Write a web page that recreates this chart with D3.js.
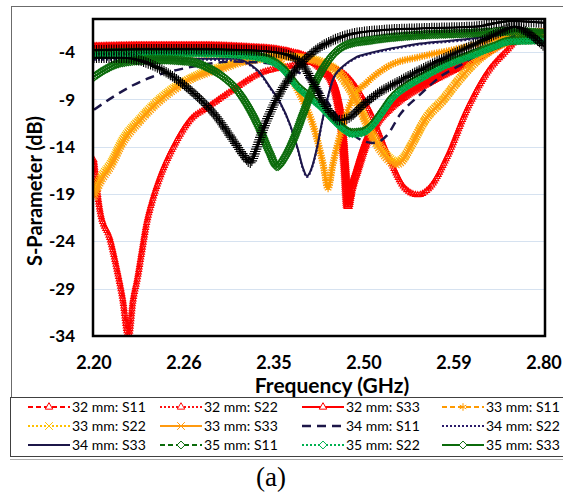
<!DOCTYPE html>
<html>
<head>
<meta charset="utf-8">
<script src="https://cdn.jsdelivr.net/npm/d3@7"></script>
<style>
  html, body { margin: 0; padding: 0; background: #fff; }
  svg { display: block; font-family: Lato, "Open Sans", sans-serif; }
</style>
</head>
<body>
<svg id="chart" width="563" height="494"></svg>
<script>
// axis labels (category axis, evenly spaced labels)
const xTicks = [2.20, 2.26, 2.35, 2.50, 2.59, 2.80];
const yTicks = [-34, -29, -24, -19, -14, -9, -4];

// [frequency GHz, dB]
const s32_11 = [[2.200,-15.4],[2.204,-20.7],[2.211,-23.9],[2.215,-26.7],[2.219,-29.9],[2.223,-34.0],[2.226,-30.2],[2.229,-27.8],[2.232,-24.9],[2.235,-22.1],[2.239,-19.6],[2.244,-17.2],[2.253,-14.0],[2.266,-11.2],[2.283,-9.9],[2.299,-8.7],[2.316,-7.5],[2.333,-6.4],[2.377,-5.5],[2.410,-5.1],[2.443,-5.5],[2.477,-6.9],[2.506,-10.3],[2.526,-15.4],[2.541,-18.4],[2.554,-19.1],[2.566,-18.3],[2.583,-15.1],[2.620,-10.1],[2.667,-6.2],[2.714,-3.8],[2.756,-2.0],[2.800,-2.3]];
const s32_22 = [[2.200,-3.4],[2.237,-3.3],[2.276,-3.3],[2.326,-3.5],[2.352,-3.7],[2.377,-4.0],[2.410,-4.7],[2.435,-6.0],[2.448,-7.0],[2.457,-9.0],[2.463,-11.3],[2.468,-15.4],[2.474,-19.9],[2.480,-18.4],[2.489,-16.2],[2.503,-13.0],[2.513,-11.2],[2.526,-9.7],[2.543,-8.3],[2.556,-7.5],[2.579,-6.2],[2.644,-4.5],[2.697,-3.1],[2.744,-2.1],[2.800,-1.9]];
const s32_33 = [[2.200,-3.5],[2.237,-3.4],[2.276,-3.4],[2.326,-3.6],[2.352,-3.8],[2.377,-4.1],[2.410,-4.8],[2.435,-6.1],[2.448,-7.2],[2.457,-9.3],[2.463,-11.7],[2.468,-15.9],[2.473,-20.3],[2.478,-18.6],[2.488,-16.5],[2.503,-13.3],[2.513,-11.4],[2.526,-9.9],[2.543,-8.5],[2.556,-7.7],[2.579,-6.4],[2.644,-4.6],[2.697,-3.2],[2.744,-2.2],[2.800,-2.0]];
const s33_11 = [[2.200,-4.0],[2.237,-4.1],[2.276,-4.2],[2.326,-4.3],[2.346,-4.4],[2.360,-5.0],[2.377,-6.6],[2.393,-8.5],[2.415,-11.7],[2.432,-15.9],[2.440,-18.4],[2.448,-15.9],[2.465,-11.7],[2.482,-8.8],[2.503,-7.2],[2.526,-5.4],[2.556,-4.5],[2.604,-3.6],[2.697,-2.5],[2.756,-1.9],[2.800,-2.0]];
const s33_22 = [[2.200,-18.9],[2.204,-17.4],[2.211,-15.8],[2.219,-13.3],[2.231,-11.0],[2.242,-9.2],[2.253,-7.8],[2.266,-6.8],[2.283,-6.0],[2.299,-5.5],[2.316,-5.0],[2.333,-4.7],[2.360,-4.4],[2.402,-4.6],[2.435,-5.2],[2.455,-6.0],[2.472,-7.3],[2.488,-9.1],[2.509,-12.8],[2.521,-14.7],[2.533,-15.6],[2.540,-15.1],[2.547,-13.9],[2.562,-11.0],[2.580,-8.9],[2.600,-7.0],[2.640,-5.0],[2.680,-3.6],[2.721,-2.7],[2.767,-2.0],[2.800,-1.9]];
const s33_33 = [[2.200,-19.3],[2.204,-17.8],[2.211,-16.1],[2.219,-13.6],[2.231,-11.2],[2.242,-9.4],[2.253,-8.0],[2.266,-6.9],[2.283,-6.2],[2.299,-5.7],[2.316,-5.1],[2.333,-4.8],[2.360,-4.5],[2.402,-4.7],[2.435,-5.3],[2.455,-6.1],[2.472,-7.5],[2.488,-9.3],[2.509,-13.1],[2.521,-15.0],[2.532,-15.9],[2.539,-15.4],[2.546,-14.1],[2.561,-11.2],[2.579,-9.1],[2.599,-7.1],[2.639,-5.1],[2.679,-3.7],[2.721,-2.8],[2.767,-2.1],[2.800,-2.0]];
const s34_11 = [[2.200,-10.1],[2.213,-8.7],[2.226,-7.5],[2.239,-6.6],[2.255,-5.9],[2.276,-5.4],[2.309,-5.0],[2.336,-5.1],[2.368,-5.6],[2.398,-6.4],[2.423,-7.8],[2.443,-9.6],[2.465,-11.7],[2.490,-13.1],[2.509,-13.6],[2.523,-12.8],[2.536,-10.6],[2.556,-8.5],[2.579,-6.4],[2.604,-5.4],[2.644,-4.3],[2.697,-3.0],[2.744,-2.1],[2.800,-1.8]];
const s34_22 = [[2.200,-4.8],[2.237,-4.8],[2.276,-4.8],[2.311,-4.9],[2.326,-5.4],[2.336,-6.3],[2.346,-7.8],[2.360,-9.4],[2.377,-11.8],[2.390,-14.4],[2.398,-16.3],[2.405,-17.2],[2.413,-16.3],[2.422,-14.1],[2.430,-11.5],[2.438,-9.3],[2.448,-7.0],[2.465,-5.6],[2.485,-4.7],[2.506,-4.2],[2.533,-3.6],[2.556,-3.2],[2.604,-2.8],[2.697,-2.2],[2.756,-1.8],[2.800,-1.8]];
const s34_33 = [[2.200,-4.6],[2.237,-4.6],[2.276,-4.7],[2.311,-4.7],[2.326,-5.3],[2.336,-6.2],[2.346,-7.7],[2.360,-9.3],[2.377,-11.7],[2.390,-14.3],[2.398,-16.2],[2.405,-17.1],[2.413,-16.2],[2.422,-14.0],[2.430,-11.4],[2.438,-9.2],[2.448,-6.9],[2.465,-5.5],[2.485,-4.6],[2.506,-4.1],[2.533,-3.5],[2.556,-3.1],[2.604,-2.7],[2.697,-2.1],[2.756,-1.7],[2.800,-1.7]];
const s35_11 = [[2.200,-4.1],[2.237,-4.0],[2.276,-4.0],[2.316,-4.2],[2.341,-4.6],[2.365,-5.7],[2.388,-7.5],[2.410,-8.7],[2.430,-9.8],[2.448,-11.0],[2.465,-12.0],[2.480,-12.5],[2.497,-12.4],[2.508,-11.7],[2.518,-10.3],[2.528,-8.8],[2.543,-7.5],[2.556,-6.7],[2.579,-5.4],[2.644,-4.0],[2.681,-3.4],[2.721,-2.8],[2.800,-2.7]];
const s35_22 = [[2.200,-4.3],[2.237,-4.2],[2.276,-4.2],[2.316,-4.4],[2.341,-4.8],[2.365,-5.9],[2.388,-7.7],[2.410,-8.9],[2.430,-10.0],[2.448,-11.2],[2.465,-12.2],[2.480,-12.7],[2.497,-12.6],[2.508,-11.9],[2.518,-10.5],[2.528,-9.0],[2.543,-7.7],[2.556,-6.9],[2.579,-5.6],[2.644,-4.2],[2.681,-3.5],[2.721,-2.9],[2.800,-2.8]];
const s35_33 = [[2.200,-6.6],[2.209,-5.7],[2.219,-5.1],[2.242,-4.8],[2.266,-5.0],[2.283,-5.6],[2.299,-6.6],[2.313,-8.0],[2.326,-10.1],[2.336,-12.2],[2.346,-14.7],[2.355,-16.1],[2.367,-15.2],[2.382,-13.3],[2.398,-10.6],[2.415,-7.8],[2.432,-5.7],[2.448,-4.3],[2.472,-3.2],[2.509,-2.7],[2.556,-2.2],[2.627,-2.0],[2.721,-1.8],[2.800,-2.0]];
// two black "+" traces that have no legend entry in the picture
const extraA = [[2.200,-4.6],[2.219,-4.6],[2.242,-5.6],[2.266,-8.0],[2.293,-10.9],[2.309,-13.3],[2.321,-15.1],[2.326,-15.7],[2.332,-14.3],[2.339,-12.2],[2.346,-10.4],[2.360,-8.3],[2.388,-5.7],[2.415,-4.0],[2.443,-2.9],[2.472,-2.2],[2.516,-1.7],[2.556,-1.5],[2.644,-1.3],[2.690,-0.9],[2.728,-0.7],[2.767,-0.8],[2.800,-0.9]];
const extraB = [[2.200,-3.8],[2.237,-3.7],[2.276,-3.7],[2.326,-3.8],[2.360,-4.1],[2.393,-5.0],[2.415,-7.2],[2.432,-9.3],[2.447,-10.6],[2.458,-11.2],[2.473,-11.0],[2.498,-9.6],[2.516,-8.2],[2.533,-7.2],[2.556,-5.9],[2.583,-4.5],[2.651,-2.9],[2.697,-1.9],[2.732,-1.3],[2.767,-2.1],[2.800,-3.4]];

const series = [
  { name: "32 mm: S11", data: s32_11, color: "#ff0000", dash: "5,3", width: 2, marker: d3.symbolTriangle2, size: 24, step: 2.5 },
  { name: "32 mm: S22", data: s32_22, color: "#ff1010", dash: "2,2", width: 2, marker: d3.symbolTriangle2, size: 30, step: 2.5 },
  { name: "32 mm: S33", data: s32_33, color: "#ff0000", dash: null, width: 2, marker: d3.symbolTriangle2, size: 46, step: 2 },
  { name: "33 mm: S11", data: s33_11, color: "#ff9a00", dash: "5,3", width: 2, marker: d3.symbolAsterisk, size: 40, step: 2.5 },
  { name: "33 mm: S22", data: s33_22, color: "#ffc000", dash: "2,2", width: 2, marker: d3.symbolTimes, size: 34, step: 2 },
  { name: "33 mm: S33", data: s33_33, color: "#ff9a10", dash: null, width: 2, marker: d3.symbolTimes, size: 32, step: 2.5 },
  { name: "34 mm: S11", data: s34_11, color: "#1c1648", dash: "9,6", width: 2.5, marker: null },
  { name: "34 mm: S22", data: s34_22, color: "#2a1a6a", dash: "2,2", width: 2, marker: null },
  { name: "34 mm: S33", data: s34_33, color: "#1c1648", dash: null, width: 2, marker: null },
  { name: "35 mm: S11", data: s35_11, color: "#0b6b0b", dash: "5,3", width: 2, marker: d3.symbolDiamond2, size: 42, step: 2 },
  { name: "35 mm: S22", data: s35_22, color: "#00b050", dash: "2,2", width: 2, marker: d3.symbolDiamond2, size: 24, step: 3 },
  { name: "35 mm: S33", data: s35_33, color: "#0b6b0b", dash: null, width: 2, marker: d3.symbolDiamond2, size: 44, step: 2 }
];
const extras = [
  { data: extraA, color: "#000", dash: null, width: 2, marker: d3.symbolPlus, size: 38, step: 2.5 },
  { data: extraB, color: "#000", dash: null, width: 2, marker: d3.symbolPlus, size: 38, step: 2.5 }
];

const svg = d3.select("#chart");
const plot = { left: 93, right: 545, top: 19, bottom: 336 };

// evenly spaced category labels -> piecewise linear frequency scale
const step = (plot.right - plot.left - 2) / (xTicks.length - 1);
const x = d3.scaleLinear()
  .domain(xTicks)
  .range(xTicks.map((d, i) => plot.left + 1 + i * step));
const y = d3.scaleLinear().domain([-34, -0.5]).range([plot.bottom, plot.top]);

// outer chart box and legend box
svg.append("rect")
  .attr("x", 11.5).attr("y", 6.5).attr("width", 600).attr("height", 391)
  .attr("fill", "none").attr("stroke", "#6b6b6b");
svg.append("rect")
  .attr("x", 10.5).attr("y", 397.5).attr("width", 600).attr("height", 59)
  .attr("fill", "none").attr("stroke", "#404040");
svg.append("line")
  .attr("x1", 10).attr("x2", 563).attr("y1", 459.5).attr("y2", 459.5)
  .attr("stroke", "#b0b0b0");

// gridlines
svg.append("g")
  .selectAll("line")
  .data(yTicks.slice(1))
  .enter().append("line")
  .attr("x1", plot.left).attr("x2", plot.right)
  .attr("y1", d => Math.round(y(d)) + 0.5)
  .attr("y2", d => Math.round(y(d)) + 0.5)
  .attr("stroke", "#d6e2f0").attr("stroke-width", 1.2);

svg.append("defs").append("clipPath").attr("id", "clip")
  .append("rect")
  .attr("x", plot.left).attr("y", plot.top)
  .attr("width", plot.right - plot.left).attr("height", plot.bottom - plot.top);

const line = d3.line()
  .x(d => x(d[0]))
  .y(d => y(d[1]))
  .curve(d3.curveMonotoneX);

const curves = svg.append("g").attr("clip-path", "url(#clip)");

function drawSeries(s) {
  const g = curves.append("g");
  const path = g.append("path")
    .attr("d", line(s.data))
    .attr("fill", "none")
    .attr("stroke", s.color)
    .attr("stroke-width", s.width)
    .attr("stroke-dasharray", s.dash);
  if (!s.marker) return;
  // markers sit densely along the trace, like the exported sweep points
  const node = path.node();
  const len = node.getTotalLength();
  const pts = d3.range(0, len, s.step).map(l => node.getPointAtLength(l));
  g.selectAll(".m")
    .data(pts)
    .enter().append("path")
    .attr("class", "m")
    .attr("transform", p => `translate(${p.x},${p.y})`)
    .attr("d", d3.symbol(s.marker, s.size))
    .attr("fill", "none")
    .attr("stroke", s.color)
    .attr("stroke-width", 1.1);
}

series.forEach(drawSeries);
extras.forEach(drawSeries);

// plot frame
svg.append("rect")
  .attr("x", plot.left).attr("y", plot.top)
  .attr("width", plot.right - plot.left).attr("height", plot.bottom - plot.top)
  .attr("fill", "none").attr("stroke", "#000").attr("stroke-width", 2.5);

// tick labels
svg.append("g")
  .selectAll("text")
  .data(yTicks)
  .enter().append("text")
  .attr("x", 75)
  .attr("y", d => y(d))
  .attr("dy", "0.36em")
  .attr("text-anchor", "end")
  .attr("font-size", 17).attr("font-weight", "bold")
  .text(d => d);

svg.append("g")
  .selectAll("text")
  .data(xTicks)
  .enter().append("text")
  .attr("x", d => x(d))
  .attr("y", 369)
  .attr("text-anchor", "middle")
  .attr("font-size", 18).attr("font-weight", "bold")
  .text(d => d.toFixed(2));

// axis titles
svg.append("text")
  .attr("x", 332).attr("y", 393)
  .attr("text-anchor", "middle")
  .attr("font-size", 21).attr("font-weight", "bold")
  .text("Frequency (GHz)");

svg.append("text")
  .attr("transform", "translate(42,191) rotate(-90)")
  .attr("text-anchor", "middle")
  .attr("font-size", 20).attr("font-weight", "bold")
  .text("S-Parameter (dB)");

// legend, 4 columns x 3 rows
const legendCols = [28, 160, 302, 442];
const legendRows = [407, 426, 445];
const legend = svg.append("g");
series.forEach((s, i) => {
  const lx = legendCols[i % 4];
  const ly = legendRows[Math.floor(i / 4)];
  const item = legend.append("g").attr("transform", `translate(${lx},${ly})`);
  item.append("line")
    .attr("x1", 0).attr("x2", 42).attr("y1", 0).attr("y2", 0)
    .attr("stroke", s.color).attr("stroke-width", s.width)
    .attr("stroke-dasharray", s.dash);
  if (s.marker) {
    item.append("path")
      .attr("transform", "translate(21,0)")
      .attr("d", d3.symbol(s.marker, 40))
      .attr("fill", "#fff")
      .attr("stroke", s.color).attr("stroke-width", 1);
  }
  item.append("text")
    .attr("x", 44).attr("y", 0).attr("dy", "0.35em")
    .attr("font-size", 14)
    .attr("fill", "#000")
    .text(s.name);
});

// caption
svg.append("text")
  .attr("x", 271).attr("y", 486)
  .attr("text-anchor", "middle")
  .attr("font-family", "'Liberation Serif', 'DejaVu Serif', serif")
  .attr("font-size", 27)
  .text("(a)");
</script>
</body>
</html>
